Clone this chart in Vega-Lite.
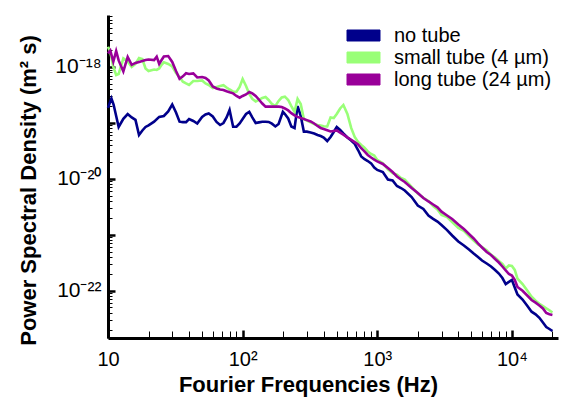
{
 "$schema": "https://vega.github.io/schema/vega-lite/v6.json",
 "width": 450,
 "height": 323,
 "autosize": "none",
 "padding": {"left": 108, "top": 15, "right": 5, "bottom": 61},
 "background": "white",
 "config": {
  "view": {"stroke": null},
  "font": "Liberation Sans",
  "axis": {"grid": false, "labelColor": "black", "titleColor": "black", "tickColor": "black", "domainColor": "black"}
 },
 "data": {"values": [
  {"series":"no tube","f":10,"psd":1.85e-19},{"series":"no tube","f":10.6,"psd":2.75e-19},{"series":"no tube","f":11,"psd":2.13e-19},{"series":"no tube","f":12,"psd":8.45e-20},{"series":"no tube","f":13,"psd":1.18e-19},{"series":"no tube","f":14,"psd":1.44e-19},{"series":"no tube","f":15,"psd":1.25e-19},{"series":"no tube","f":16,"psd":1.13e-19},{"series":"no tube","f":17,"psd":6.08e-20},{"series":"no tube","f":18,"psd":7.31e-20},{"series":"no tube","f":19,"psd":8.45e-20},{"series":"no tube","f":20,"psd":9.06e-20},{"series":"no tube","f":22,"psd":1.05e-19},{"series":"no tube","f":24,"psd":1.28e-19},{"series":"no tube","f":26,"psd":1.33e-19},{"series":"no tube","f":28,"psd":1.6e-19},{"series":"no tube","f":30,"psd":2.13e-19},{"series":"no tube","f":32,"psd":1.53e-19},{"series":"no tube","f":34,"psd":1.05e-19},{"series":"no tube","f":36,"psd":1.03e-19},{"series":"no tube","f":38,"psd":1.03e-19},{"series":"no tube","f":40,"psd":1.17e-19},{"series":"no tube","f":43,"psd":1.08e-19},{"series":"no tube","f":46,"psd":9.75e-20},{"series":"no tube","f":50,"psd":1.28e-19},{"series":"no tube","f":53,"psd":1.41e-19},{"series":"no tube","f":56,"psd":1.47e-19},{"series":"no tube","f":60,"psd":1.3e-19},{"series":"no tube","f":64,"psd":1.04e-19},{"series":"no tube","f":68,"psd":9.16e-20},{"series":"no tube","f":72,"psd":9.95e-20},{"series":"no tube","f":76,"psd":1.25e-19},{"series":"no tube","f":80,"psd":1.7e-19},{"series":"no tube","f":85,"psd":8.55e-20},{"series":"no tube","f":90,"psd":8.55e-20},{"series":"no tube","f":95,"psd":9.75e-20},{"series":"no tube","f":100,"psd":1.17e-19},{"series":"no tube","f":106,"psd":1.44e-19},{"series":"no tube","f":112,"psd":1.57e-19},{"series":"no tube","f":118,"psd":1.25e-19},{"series":"no tube","f":125,"psd":9.95e-20},{"series":"no tube","f":132,"psd":1.02e-19},{"series":"no tube","f":140,"psd":1.05e-19},{"series":"no tube","f":148,"psd":1.05e-19},{"series":"no tube","f":156,"psd":1.04e-19},{"series":"no tube","f":165,"psd":9.68e-20},{"series":"no tube","f":175,"psd":8.63e-20},{"series":"no tube","f":185,"psd":9.55e-20},{"series":"no tube","f":199,"psd":1.58e-19},{"series":"no tube","f":206,"psd":1.44e-19},{"series":"no tube","f":218,"psd":1.2e-19},{"series":"no tube","f":230,"psd":8.63e-20},{"series":"no tube","f":243,"psd":8.11e-20},{"series":"no tube","f":256,"psd":2.0e-19},{"series":"no tube","f":270,"psd":1.33e-19},{"series":"no tube","f":285,"psd":6.97e-20},{"series":"no tube","f":300,"psd":6.97e-20},{"series":"no tube","f":320,"psd":6.73e-20},{"series":"no tube","f":340,"psd":6.46e-20},{"series":"no tube","f":360,"psd":6.08e-20},{"series":"no tube","f":380,"psd":5.83e-20},{"series":"no tube","f":400,"psd":5.48e-20},{"series":"no tube","f":425,"psd":4.74e-20},{"series":"no tube","f":450,"psd":5.6e-20},{"series":"no tube","f":475,"psd":6.87e-20},{"series":"no tube","f":500,"psd":8.45e-20},{"series":"no tube","f":530,"psd":7.46e-20},{"series":"no tube","f":560,"psd":6.46e-20},{"series":"no tube","f":600,"psd":5.48e-20},{"series":"no tube","f":640,"psd":4.84e-20},{"series":"no tube","f":680,"psd":4.2e-20},{"series":"no tube","f":720,"psd":3.27e-20},{"series":"no tube","f":760,"psd":2.51e-20},{"series":"no tube","f":800,"psd":2.26e-20},{"series":"no tube","f":850,"psd":2.08e-20},{"series":"no tube","f":900,"psd":1.89e-20},{"series":"no tube","f":950,"psd":1.59e-20},{"series":"no tube","f":1000,"psd":1.44e-20},{"series":"no tube","f":1100,"psd":1.32e-20},{"series":"no tube","f":1200,"psd":9.7e-21},{"series":"no tube","f":1300,"psd":9.33e-21},{"series":"no tube","f":1400,"psd":7.43e-21},{"series":"no tube","f":1500,"psd":6.84e-21},{"series":"no tube","f":1600,"psd":6.18e-21},{"series":"no tube","f":1800,"psd":4.72e-21},{"series":"no tube","f":2000,"psd":3.33e-21},{"series":"no tube","f":2200,"psd":2.88e-21},{"series":"no tube","f":2400,"psd":2.2e-21},{"series":"no tube","f":2600,"psd":1.92e-21},{"series":"no tube","f":2800,"psd":1.72e-21},{"series":"no tube","f":3000,"psd":1.49e-21},{"series":"no tube","f":3300,"psd":1.21e-21},{"series":"no tube","f":3600,"psd":9.68e-22},{"series":"no tube","f":4000,"psd":7.55e-22},{"series":"no tube","f":4400,"psd":6.41e-22},{"series":"no tube","f":4800,"psd":5.43e-22},{"series":"no tube","f":5200,"psd":4.61e-22},{"series":"no tube","f":5600,"psd":3.99e-22},{"series":"no tube","f":6000,"psd":3.45e-22},{"series":"no tube","f":6500,"psd":3.05e-22},{"series":"no tube","f":7000,"psd":2.7e-22},{"series":"no tube","f":7500,"psd":2.34e-22},{"series":"no tube","f":8000,"psd":2.02e-22},{"series":"no tube","f":8500,"psd":1.68e-22},{"series":"no tube","f":9000,"psd":1.31e-22},{"series":"no tube","f":9500,"psd":1.43e-22},{"series":"no tube","f":10000,"psd":1.55e-22},{"series":"no tube","f":10500,"psd":1.14e-22},{"series":"no tube","f":11000,"psd":8.51e-23},{"series":"no tube","f":12000,"psd":6.93e-23},{"series":"no tube","f":13000,"psd":5.35e-23},{"series":"no tube","f":14000,"psd":4.2e-23},{"series":"no tube","f":15000,"psd":3.77e-23},{"series":"no tube","f":16000,"psd":3.26e-23},{"series":"no tube","f":17000,"psd":2.69e-23},{"series":"no tube","f":18000,"psd":2.23e-23},{"series":"no tube","f":19000,"psd":2.06e-23},{"series":"no tube","f":20000,"psd":1.89e-23},
  {"series":"small tube (4 µm)","f":10,"psd":2.31e-18},{"series":"small tube (4 µm)","f":10.4,"psd":1.85e-18},{"series":"small tube (4 µm)","f":10.95,"psd":1.0e-18},{"series":"small tube (4 µm)","f":11.5,"psd":7.19e-19},{"series":"small tube (4 µm)","f":12,"psd":7.5e-19},{"series":"small tube (4 µm)","f":13,"psd":1.42e-18},{"series":"small tube (4 µm)","f":14,"psd":1.25e-18},{"series":"small tube (4 µm)","f":15,"psd":1.0e-18},{"series":"small tube (4 µm)","f":16,"psd":1.13e-18},{"series":"small tube (4 µm)","f":17,"psd":1.45e-18},{"series":"small tube (4 µm)","f":18,"psd":1.39e-18},{"series":"small tube (4 µm)","f":19,"psd":9.4e-19},{"series":"small tube (4 µm)","f":20,"psd":8.48e-19},{"series":"small tube (4 µm)","f":22,"psd":9.02e-19},{"series":"small tube (4 µm)","f":23,"psd":8.84e-19},{"series":"small tube (4 µm)","f":24,"psd":9.4e-19},{"series":"small tube (4 µm)","f":25,"psd":1.09e-18},{"series":"small tube (4 µm)","f":26,"psd":1.21e-18},{"series":"small tube (4 µm)","f":28,"psd":1.13e-18},{"series":"small tube (4 µm)","f":30,"psd":1.02e-18},{"series":"small tube (4 µm)","f":32,"psd":7.82e-19},{"series":"small tube (4 µm)","f":34,"psd":6.62e-19},{"series":"small tube (4 µm)","f":36,"psd":5.46e-19},{"series":"small tube (4 µm)","f":38,"psd":5.07e-19},{"series":"small tube (4 µm)","f":40,"psd":4.76e-19},{"series":"small tube (4 µm)","f":43,"psd":5.62e-19},{"series":"small tube (4 µm)","f":46,"psd":5.62e-19},{"series":"small tube (4 µm)","f":50,"psd":5.74e-19},{"series":"small tube (4 µm)","f":53,"psd":5.07e-19},{"series":"small tube (4 µm)","f":56,"psd":4.76e-19},{"series":"small tube (4 µm)","f":60,"psd":4.21e-19},{"series":"small tube (4 µm)","f":64,"psd":4.39e-19},{"series":"small tube (4 µm)","f":68,"psd":4.57e-19},{"series":"small tube (4 µm)","f":72,"psd":4.71e-19},{"series":"small tube (4 µm)","f":76,"psd":4.3e-19},{"series":"small tube (4 µm)","f":80,"psd":3.96e-19},{"series":"small tube (4 µm)","f":85,"psd":3.61e-19},{"series":"small tube (4 µm)","f":90,"psd":3.61e-19},{"series":"small tube (4 µm)","f":95,"psd":4.39e-19},{"series":"small tube (4 µm)","f":100,"psd":6.1e-19},{"series":"small tube (4 µm)","f":106,"psd":4.57e-19},{"series":"small tube (4 µm)","f":112,"psd":3.29e-19},{"series":"small tube (4 µm)","f":118,"psd":2.68e-19},{"series":"small tube (4 µm)","f":125,"psd":2.42e-19},{"series":"small tube (4 µm)","f":132,"psd":2.57e-19},{"series":"small tube (4 µm)","f":140,"psd":2.8e-19},{"series":"small tube (4 µm)","f":148,"psd":2.9e-19},{"series":"small tube (4 µm)","f":156,"psd":2.57e-19},{"series":"small tube (4 µm)","f":165,"psd":2.18e-19},{"series":"small tube (4 µm)","f":175,"psd":2.0e-19},{"series":"small tube (4 µm)","f":185,"psd":2.47e-19},{"series":"small tube (4 µm)","f":195,"psd":2.84e-19},{"series":"small tube (4 µm)","f":206,"psd":2.94e-19},{"series":"small tube (4 µm)","f":218,"psd":2.57e-19},{"series":"small tube (4 µm)","f":230,"psd":2.0e-19},{"series":"small tube (4 µm)","f":243,"psd":1.57e-19},{"series":"small tube (4 µm)","f":256,"psd":2.68e-19},{"series":"small tube (4 µm)","f":270,"psd":2.18e-19},{"series":"small tube (4 µm)","f":285,"psd":1.17e-19},{"series":"small tube (4 µm)","f":300,"psd":1.1e-19},{"series":"small tube (4 µm)","f":320,"psd":1.02e-19},{"series":"small tube (4 µm)","f":340,"psd":9.55e-20},{"series":"small tube (4 µm)","f":360,"psd":9.16e-20},{"series":"small tube (4 µm)","f":380,"psd":8.97e-20},{"series":"small tube (4 µm)","f":400,"psd":8.69e-20},{"series":"small tube (4 µm)","f":425,"psd":8.63e-20},{"series":"small tube (4 µm)","f":450,"psd":1.25e-19},{"series":"small tube (4 µm)","f":475,"psd":1.22e-19},{"series":"small tube (4 µm)","f":500,"psd":1.44e-19},{"series":"small tube (4 µm)","f":530,"psd":1.81e-19},{"series":"small tube (4 µm)","f":560,"psd":2.09e-19},{"series":"small tube (4 µm)","f":600,"psd":1.44e-19},{"series":"small tube (4 µm)","f":640,"psd":8.11e-20},{"series":"small tube (4 µm)","f":680,"psd":5.6e-20},{"series":"small tube (4 µm)","f":720,"psd":4.55e-20},{"series":"small tube (4 µm)","f":760,"psd":4.03e-20},{"series":"small tube (4 µm)","f":800,"psd":3.63e-20},{"series":"small tube (4 µm)","f":850,"psd":3.08e-20},{"series":"small tube (4 µm)","f":900,"psd":2.78e-20},{"series":"small tube (4 µm)","f":950,"psd":2.61e-20},{"series":"small tube (4 µm)","f":1000,"psd":2.17e-20},{"series":"small tube (4 µm)","f":1100,"psd":1.89e-20},{"series":"small tube (4 µm)","f":1200,"psd":1.47e-20},{"series":"small tube (4 µm)","f":1300,"psd":1.26e-20},{"series":"small tube (4 µm)","f":1400,"psd":1.18e-20},{"series":"small tube (4 µm)","f":1500,"psd":1.03e-20},{"series":"small tube (4 µm)","f":1600,"psd":9.7e-21},{"series":"small tube (4 µm)","f":1800,"psd":7.13e-21},{"series":"small tube (4 µm)","f":2000,"psd":5.46e-21},{"series":"small tube (4 µm)","f":2200,"psd":4.57e-21},{"series":"small tube (4 µm)","f":2400,"psd":4.01e-21},{"series":"small tube (4 µm)","f":2600,"psd":3.26e-21},{"series":"small tube (4 µm)","f":2800,"psd":2.82e-21},{"series":"small tube (4 µm)","f":3000,"psd":2.25e-21},{"series":"small tube (4 µm)","f":3300,"psd":2.07e-21},{"series":"small tube (4 µm)","f":3600,"psd":1.69e-21},{"series":"small tube (4 µm)","f":4000,"psd":1.32e-21},{"series":"small tube (4 µm)","f":4400,"psd":1.17e-21},{"series":"small tube (4 µm)","f":4800,"psd":9.48e-22},{"series":"small tube (4 µm)","f":5200,"psd":7.87e-22},{"series":"small tube (4 µm)","f":5600,"psd":6.68e-22},{"series":"small tube (4 µm)","f":6000,"psd":6.03e-22},{"series":"small tube (4 µm)","f":6500,"psd":5.26e-22},{"series":"small tube (4 µm)","f":7000,"psd":4.34e-22},{"series":"small tube (4 µm)","f":7500,"psd":3.91e-22},{"series":"small tube (4 µm)","f":8000,"psd":3.39e-22},{"series":"small tube (4 µm)","f":8500,"psd":3.01e-22},{"series":"small tube (4 µm)","f":9000,"psd":2.48e-22},{"series":"small tube (4 µm)","f":9500,"psd":2.81e-22},{"series":"small tube (4 µm)","f":10000,"psd":2.75e-22},{"series":"small tube (4 µm)","f":10500,"psd":2.34e-22},{"series":"small tube (4 µm)","f":11000,"psd":1.64e-22},{"series":"small tube (4 µm)","f":12000,"psd":1.31e-22},{"series":"small tube (4 µm)","f":13000,"psd":1.0e-22},{"series":"small tube (4 µm)","f":14000,"psd":7.78e-23},{"series":"small tube (4 µm)","f":15000,"psd":6.58e-23},{"series":"small tube (4 µm)","f":16000,"psd":5.81e-23},{"series":"small tube (4 µm)","f":17000,"psd":5.3e-23},{"series":"small tube (4 µm)","f":18000,"psd":4.82e-23},{"series":"small tube (4 µm)","f":19000,"psd":4.45e-23},{"series":"small tube (4 µm)","f":20000,"psd":4.06e-23},
  {"series":"long tube (24 µm)","f":10,"psd":1.75e-18},{"series":"long tube (24 µm)","f":10.4,"psd":1.96e-18},{"series":"long tube (24 µm)","f":10.95,"psd":1.24e-18},{"series":"long tube (24 µm)","f":11.5,"psd":1.93e-18},{"series":"long tube (24 µm)","f":12,"psd":1.31e-18},{"series":"long tube (24 µm)","f":13,"psd":8.31e-19},{"series":"long tube (24 µm)","f":14,"psd":1.51e-18},{"series":"long tube (24 µm)","f":15,"psd":1.09e-18},{"series":"long tube (24 µm)","f":16,"psd":1.18e-18},{"series":"long tube (24 µm)","f":17,"psd":1.23e-18},{"series":"long tube (24 µm)","f":18,"psd":1.28e-18},{"series":"long tube (24 µm)","f":19,"psd":1.33e-18},{"series":"long tube (24 µm)","f":20,"psd":1.36e-18},{"series":"long tube (24 µm)","f":22,"psd":1.33e-18},{"series":"long tube (24 µm)","f":23,"psd":1.53e-18},{"series":"long tube (24 µm)","f":24,"psd":1.13e-18},{"series":"long tube (24 µm)","f":25,"psd":1.33e-18},{"series":"long tube (24 µm)","f":26,"psd":1.54e-18},{"series":"long tube (24 µm)","f":28,"psd":1.57e-18},{"series":"long tube (24 µm)","f":30,"psd":1.23e-18},{"series":"long tube (24 µm)","f":32,"psd":8.48e-19},{"series":"long tube (24 µm)","f":34,"psd":6.15e-19},{"series":"long tube (24 µm)","f":36,"psd":6.79e-19},{"series":"long tube (24 µm)","f":38,"psd":7.71e-19},{"series":"long tube (24 µm)","f":40,"psd":7.5e-19},{"series":"long tube (24 µm)","f":43,"psd":7.66e-19},{"series":"long tube (24 µm)","f":46,"psd":6.49e-19},{"series":"long tube (24 µm)","f":50,"psd":6.62e-19},{"series":"long tube (24 µm)","f":53,"psd":6.36e-19},{"series":"long tube (24 µm)","f":56,"psd":5.74e-19},{"series":"long tube (24 µm)","f":60,"psd":4.48e-19},{"series":"long tube (24 µm)","f":64,"psd":4.12e-19},{"series":"long tube (24 µm)","f":68,"psd":3.96e-19},{"series":"long tube (24 µm)","f":72,"psd":3.88e-19},{"series":"long tube (24 µm)","f":76,"psd":3.67e-19},{"series":"long tube (24 µm)","f":80,"psd":3.52e-19},{"series":"long tube (24 µm)","f":85,"psd":3.37e-19},{"series":"long tube (24 µm)","f":90,"psd":3.03e-19},{"series":"long tube (24 µm)","f":95,"psd":2.82e-19},{"series":"long tube (24 µm)","f":100,"psd":3.03e-19},{"series":"long tube (24 µm)","f":106,"psd":3.22e-19},{"series":"long tube (24 µm)","f":112,"psd":3.57e-19},{"series":"long tube (24 µm)","f":118,"psd":3.36e-19},{"series":"long tube (24 µm)","f":125,"psd":3.03e-19},{"series":"long tube (24 µm)","f":132,"psd":2.62e-19},{"series":"long tube (24 µm)","f":140,"psd":2.22e-19},{"series":"long tube (24 µm)","f":148,"psd":1.95e-19},{"series":"long tube (24 µm)","f":156,"psd":1.95e-19},{"series":"long tube (24 µm)","f":165,"psd":1.95e-19},{"series":"long tube (24 µm)","f":175,"psd":1.95e-19},{"series":"long tube (24 µm)","f":185,"psd":1.95e-19},{"series":"long tube (24 µm)","f":195,"psd":1.92e-19},{"series":"long tube (24 µm)","f":206,"psd":1.81e-19},{"series":"long tube (24 µm)","f":218,"psd":1.67e-19},{"series":"long tube (24 µm)","f":230,"psd":1.49e-19},{"series":"long tube (24 µm)","f":243,"psd":1.36e-19},{"series":"long tube (24 µm)","f":256,"psd":1.28e-19},{"series":"long tube (24 µm)","f":270,"psd":1.22e-19},{"series":"long tube (24 µm)","f":285,"psd":1.17e-19},{"series":"long tube (24 µm)","f":300,"psd":1.12e-19},{"series":"long tube (24 µm)","f":320,"psd":1.06e-19},{"series":"long tube (24 µm)","f":340,"psd":9.75e-20},{"series":"long tube (24 µm)","f":360,"psd":8.81e-20},{"series":"long tube (24 µm)","f":380,"psd":8.11e-20},{"series":"long tube (24 µm)","f":400,"psd":7.78e-20},{"series":"long tube (24 µm)","f":425,"psd":7.38e-20},{"series":"long tube (24 µm)","f":450,"psd":7.01e-20},{"series":"long tube (24 µm)","f":475,"psd":7.16e-20},{"series":"long tube (24 µm)","f":500,"psd":7.31e-20},{"series":"long tube (24 µm)","f":530,"psd":6.68e-20},{"series":"long tube (24 µm)","f":560,"psd":6.18e-20},{"series":"long tube (24 µm)","f":600,"psd":5.51e-20},{"series":"long tube (24 µm)","f":640,"psd":4.99e-20},{"series":"long tube (24 µm)","f":680,"psd":4.52e-20},{"series":"long tube (24 µm)","f":720,"psd":4.11e-20},{"series":"long tube (24 µm)","f":760,"psd":3.52e-20},{"series":"long tube (24 µm)","f":800,"psd":3.12e-20},{"series":"long tube (24 µm)","f":850,"psd":2.67e-20},{"series":"long tube (24 µm)","f":900,"psd":2.4e-20},{"series":"long tube (24 µm)","f":950,"psd":2.21e-20},{"series":"long tube (24 µm)","f":1000,"psd":2.04e-20},{"series":"long tube (24 µm)","f":1100,"psd":1.84e-20},{"series":"long tube (24 µm)","f":1200,"psd":1.56e-20},{"series":"long tube (24 µm)","f":1300,"psd":1.32e-20},{"series":"long tube (24 µm)","f":1400,"psd":1.1e-20},{"series":"long tube (24 µm)","f":1500,"psd":9.7e-21},{"series":"long tube (24 µm)","f":1600,"psd":8.77e-21},{"series":"long tube (24 µm)","f":1800,"psd":6.84e-21},{"series":"long tube (24 µm)","f":2000,"psd":5.57e-21},{"series":"long tube (24 µm)","f":2200,"psd":4.54e-21},{"series":"long tube (24 µm)","f":2400,"psd":3.93e-21},{"series":"long tube (24 µm)","f":2600,"psd":3.47e-21},{"series":"long tube (24 µm)","f":2800,"psd":3.09e-21},{"series":"long tube (24 µm)","f":3000,"psd":2.58e-21},{"series":"long tube (24 µm)","f":3300,"psd":2.2e-21},{"series":"long tube (24 µm)","f":3600,"psd":1.91e-21},{"series":"long tube (24 µm)","f":4000,"psd":1.52e-21},{"series":"long tube (24 µm)","f":4400,"psd":1.26e-21},{"series":"long tube (24 µm)","f":4800,"psd":1.03e-21},{"series":"long tube (24 µm)","f":5200,"psd":8.55e-22},{"series":"long tube (24 µm)","f":5600,"psd":6.97e-22},{"series":"long tube (24 µm)","f":6000,"psd":5.9e-22},{"series":"long tube (24 µm)","f":6500,"psd":4.9e-22},{"series":"long tube (24 µm)","f":7000,"psd":4.34e-22},{"series":"long tube (24 µm)","f":7500,"psd":3.67e-22},{"series":"long tube (24 µm)","f":8000,"psd":3.18e-22},{"series":"long tube (24 µm)","f":8500,"psd":2.7e-22},{"series":"long tube (24 µm)","f":9000,"psd":2.29e-22},{"series":"long tube (24 µm)","f":9500,"psd":1.98e-22},{"series":"long tube (24 µm)","f":10000,"psd":1.86e-22},{"series":"long tube (24 µm)","f":10500,"psd":1.55e-22},{"series":"long tube (24 µm)","f":11000,"psd":1.16e-22},{"series":"long tube (24 µm)","f":12000,"psd":9.91e-23},{"series":"long tube (24 µm)","f":13000,"psd":8.17e-23},{"series":"long tube (24 µm)","f":14000,"psd":6.79e-23},{"series":"long tube (24 µm)","f":15000,"psd":6.08e-23},{"series":"long tube (24 µm)","f":16000,"psd":5.41e-23},{"series":"long tube (24 µm)","f":17000,"psd":4.79e-23},{"series":"long tube (24 µm)","f":18000,"psd":3.97e-23},{"series":"long tube (24 µm)","f":19000,"psd":3.77e-23},{"series":"long tube (24 µm)","f":20000,"psd":3.66e-23}
 ]},
 "layer": [
  {
   "mark": {"type": "line", "strokeOpacity": 0},
   "encoding": {
    "x": {"field": "f", "type": "quantitative", "scale": {"type": "log", "domain": [10, 22000], "nice": false},
     "axis": {"orient": "bottom", "values": [20,30,40,50,60,70,80,90,200,300,400,500,600,700,800,900,2000,3000,4000,5000,6000,7000,8000,9000,20000], "labels": false, "title": null, "domain": false, "tickSize": -7, "tickWidth": 1}},
    "y": {"field": "psd", "type": "quantitative", "scale": {"type": "log", "domain": [1.42e-23, 8.5e-18], "nice": false},
     "axis": {"orient": "left", "values": [2e-23,3e-23,4e-23,5e-23,6e-23,7e-23,8e-23,9e-23,2e-22,3e-22,4e-22,5e-22,6e-22,7e-22,8e-22,9e-22,2e-21,3e-21,4e-21,5e-21,6e-21,7e-21,8e-21,9e-21,2e-20,3e-20,4e-20,5e-20,6e-20,7e-20,8e-20,9e-20,2e-19,3e-19,4e-19,5e-19,6e-19,7e-19,8e-19,9e-19,2e-18,3e-18,4e-18,5e-18,6e-18,7e-18,8e-18], "labels": false, "title": null, "domain": false, "tickSize": -4, "tickWidth": 1}}
   }
  },
  {
   "mark": {"type": "line", "strokeWidth": 2.6},
   "encoding": {
    "x": {"field": "f", "type": "quantitative", "scale": {"type": "log", "domain": [10, 22000], "nice": false},
     "axis": {"orient": "bottom", "values": [10, 100, 1000, 10000], "labelExpr": "datum.value < 50 ? '10' : datum.value < 500 ? '10²' : datum.value < 5000 ? '10³' : '10⁴'", "labelFontSize": 20, "labelPadding": 19, "labelOverlap": false, "labelFlush": false, "tickSize": -8, "tickWidth": 2.5, "domainWidth": 3, "title": "Fourier Frequencies (Hz)", "titleFontSize": 22, "titleFontWeight": "bold", "titleX": 200, "titleY": 46, "titleBaseline": "middle", "titleAlign": "center"}},
    "y": {"field": "psd", "type": "quantitative", "scale": {"type": "log", "domain": [1.42e-23, 8.5e-18], "nice": false},
     "axis": {"orient": "left", "values": [1e-23, 1e-22, 1e-21, 1e-20, 1e-19, 1e-18], "labelExpr": "round(log(datum.value)/LN10) == -18 ? '10⁻¹⁸' : round(log(datum.value)/LN10) == -20 ? '10⁻²⁰' : round(log(datum.value)/LN10) == -22 ? '10⁻²²' : ''", "labelFontSize": 21, "labelPadding": 14, "labelOverlap": false, "labelFlush": false, "tickSize": -7, "tickWidth": 2.5, "domainWidth": 3, "title": "Power Spectral Density (m² s)", "titleFontSize": 22, "titleFontWeight": "bold", "titleX": -80, "titleY": 175, "titleAngle": -90, "titleBaseline": "middle", "titleAlign": "center"}},
    "color": {"field": "series", "type": "nominal", "sort": ["no tube", "small tube (4 µm)", "long tube (24 µm)"],
     "scale": {"domain": ["no tube", "small tube (4 µm)", "long tube (24 µm)"], "range": ["#00008b", "#99ff77", "#990099"]},
     "legend": {"orient": "none", "legendX": 244, "legendY": 9, "title": null, "padding": 0, "labelFontSize": 20, "labelLimit": 400, "labelColor": "black", "labelOffset": 19, "rowPadding": 0, "symbolType": "M-1.5,-0.5H1.5V0.5H-1.5Z", "symbolSize": 484, "symbolStrokeWidth": 1, "symbolOpacity": 1,
      "encode": {"symbols": {"update": {"fill": {"scale": "color", "field": "value"}, "fillOpacity": {"value": 1}, "stroke": {"value": "black"}, "strokeWidth": {"value": 1}}}}}}
   }
  }
 ],
 "resolve": {"axis": {"x": "independent", "y": "independent"}}
}
